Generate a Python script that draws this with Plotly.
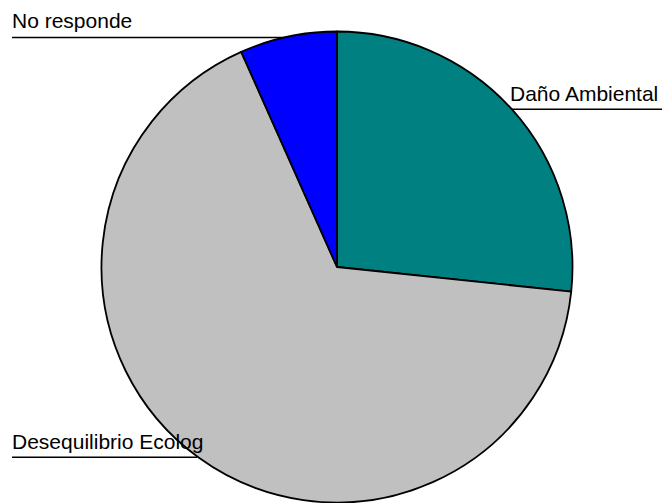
import plotly.graph_objects as go

W, H = 662, 503

categories = ["Daño Ambiental", "Desequilibrio Ecolog", "No responde"]
values = [4, 10, 1]
colors = ["#008080", "#C0C0C0", "#0000FF"]

def px(x):
    return x / W

def py(y):
    return 1 - y / H

fig = go.Figure(
    go.Pie(
        labels=categories,
        values=values,
        sort=False,
        direction="clockwise",
        rotation=0,
        textinfo="none",
        hoverinfo="label+percent",
        marker=dict(colors=colors, line=dict(color="black", width=1.8)),
        domain=dict(x=[px(101.5), px(572.5)], y=[py(502.5), py(31.5)]),
        showlegend=False,
    )
)

# label positions (pixel) and leader lines
label_specs = [
    # text, x_left, cap-center y, line x0, line x1, line y
    ("No responde", 12, 21, 12, 287, 37.5),
    ("Daño Ambiental", 510, 93.5, 512, 662, 109.3),
    ("Desequilibrio Ecolog", 12, 441, 12, 197, 457.3),
]

annotations = []
shapes = []
for text, tx, ty, lx0, lx1, ly in label_specs:
    annotations.append(
        dict(
            text=text,
            x=px(tx - 2),
            y=py(ty),
            xref="paper",
            yref="paper",
            xanchor="left",
            yanchor="middle",
            showarrow=False,
            font=dict(family="Liberation Sans, Arial, sans-serif", size=21, color="black"),
        )
    )
    shapes.append(
        dict(
            type="line",
            xref="paper",
            yref="paper",
            x0=px(lx0),
            x1=px(lx1),
            y0=py(ly),
            y1=py(ly),
            line=dict(color="black", width=1.5),
            layer="below",
        )
    )

fig.update_layout(
    width=W,
    height=H,
    margin=dict(l=0, r=0, t=0, b=0),
    paper_bgcolor="white",
    plot_bgcolor="white",
    annotations=annotations,
    shapes=shapes,
)

fig.write_html(
    "out.html",
    config={"displayModeBar": False},
    post_script="document.body.style.margin='0';document.body.style.overflow='hidden';",
)
